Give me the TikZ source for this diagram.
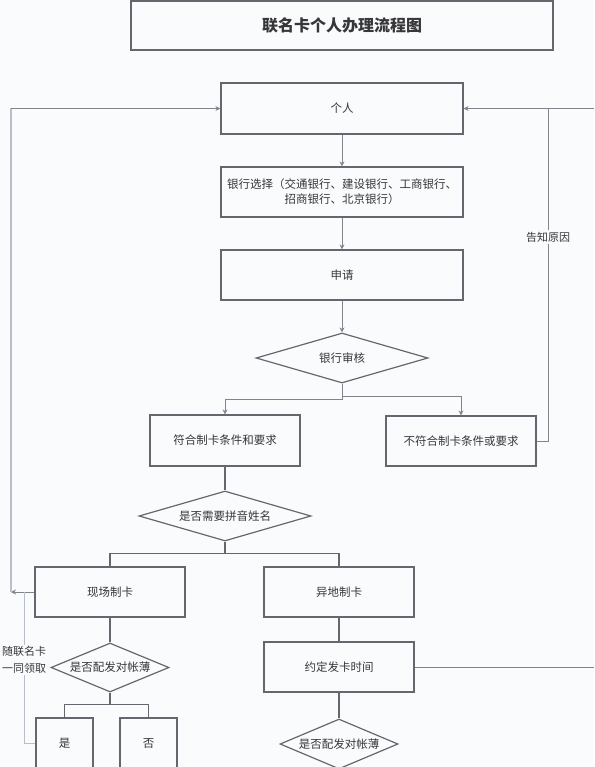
\documentclass[tikz,border=0pt]{standalone}
\usepackage{fontspec}
\usetikzlibrary{shapes.geometric,arrows.meta}
\newfontfamily\cjk{Noto Sans CJK SC}
\definecolor{bline}{RGB}{100,104,110}
\definecolor{cline}{RGB}{128,133,140}
\definecolor{lline}{RGB}{185,191,202}
\definecolor{bgc}{RGB}{250,251,253}
\definecolor{txt}{RGB}{55,55,58}
\tikzset{
  box/.style={draw=bline,line width=1.2,inner sep=0,text=txt,align=center,font=\cjk\fontsize{11.5}{15}\selectfont},
  dia/.style={box,diamond,aspect=3},
  conn/.style={draw=cline,line width=0.8},
  arr/.style={conn,-{Stealth[length=5,width=5]}},
  link/.style={draw=bline,line width=1.2},
  lp/.style={draw=lline,line width=1.4},
  tag/.style={fill=bgc,inner sep=1.5,text=txt,align=center,font=\cjk\fontsize{11}{17}\selectfont}
}
\begin{document}
\begin{tikzpicture}[x=1pt,y=-1pt]
  \fill[bgc] (0,0) rectangle (594,767);
  \useasboundingbox (0,0) rectangle (594,767);
  \node[box,minimum width=422,minimum height=49,font=\cjk\bfseries\fontsize{16}{18}\selectfont] (title) at (342,25.5) {联名卡个人办理流程图};
    \node[box,minimum width=242,minimum height=51] (geren) at (342,108.5) {个人};
      \node[box,minimum width=242,minimum height=50] (xuanze) at (342,192) {银行选择（交通银行、建设银行、工商银行、\\招商银行、北京银行）};
    \node[box,minimum width=242,minimum height=50] (shenqing) at (342,275) {申请};
  \node[dia,minimum width=172,minimum height=50] (shenhe) at (342,358) {银行审核};
    \node[box,minimum width=150,minimum height=51] (fuhe) at (225,440.5) {符合制卡条件和要求};
    \node[box,minimum width=150,minimum height=50] (bufuhe) at (461,441) {不符合制卡条件或要求};
  \node[dia,minimum width=172,minimum height=50] (pinyin) at (225,516) {是否需要拼音姓名};
    \node[box,minimum width=150,minimum height=50] (xianchang) at (110,592) {现场制卡};
    \node[box,minimum width=150,minimum height=50] (yidi) at (339,592) {异地制卡};
  \node[dia,minimum width=118,minimum height=49] (duizhangA) at (110,667.5) {是否配发对帐薄};
    \node[box,minimum width=150,minimum height=50] (yueding) at (339,667) {约定发卡时间};
    \node[box,minimum width=57,minimum height=50] (shi) at (64.5,743) {是};
    \node[box,minimum width=57,minimum height=50] (fou) at (148.5,743) {否};
  \node[dia,minimum width=118,minimum height=50] (duizhangB) at (339,744) {是否配发对帐薄};
  \coordinate (R) at (548,108.5);
  \coordinate (RE) at (594,108.5);
  \coordinate (RE2) at (594,667);
  \coordinate (L) at (11,592);
  \coordinate (LT) at (11,108.5);
  \coordinate (M) at (24,592);
  \draw[arr] (geren) -- (xuanze);
  \draw[arr] (xuanze) -- (shenqing);
  \draw[arr] (shenqing) -- (shenhe);
  \draw[arr] (shenhe.south) -- ++(0,16) -| (fuhe.north);
  \draw[arr] (shenhe.south) -- ++(0,13) -| (bufuhe.north);
  \draw[arr] (bufuhe.east) -| (R) -- (geren.east);
  \draw[conn] (RE) -- (R);
  \draw[conn] (yueding.east) -- (RE2);
  \draw[link] (fuhe) -- (pinyin);
  \draw[link] (pinyin.south) -- ++(0,12) -| (xianchang.north);
  \draw[link] (pinyin.south) -- ++(0,12) -| (yidi.north);
  \draw[link] (xianchang) -- (duizhangA);
  \draw[link] (duizhangA.south) -- ++(0,12) -| (shi.north);
  \draw[link] (duizhangA.south) -- ++(0,12) -| (fou.north);
  \draw[link] (yidi) -- (yueding);
  \draw[link] (yueding) -- (duizhangB);
  \draw[arr] (xianchang.west) -- (L);
  \draw[lp] (L) -- (LT);
  \draw[arr] (LT) -- (geren.west);
  \draw[lp,line width=1] (shi.west) -| (M);
  \node[tag] (gaozhi) at (548,237) {告知原因};
  \node[tag] (suilian) at (24,660) {随联名卡\\一同领取};
\end{tikzpicture}
\end{document}
